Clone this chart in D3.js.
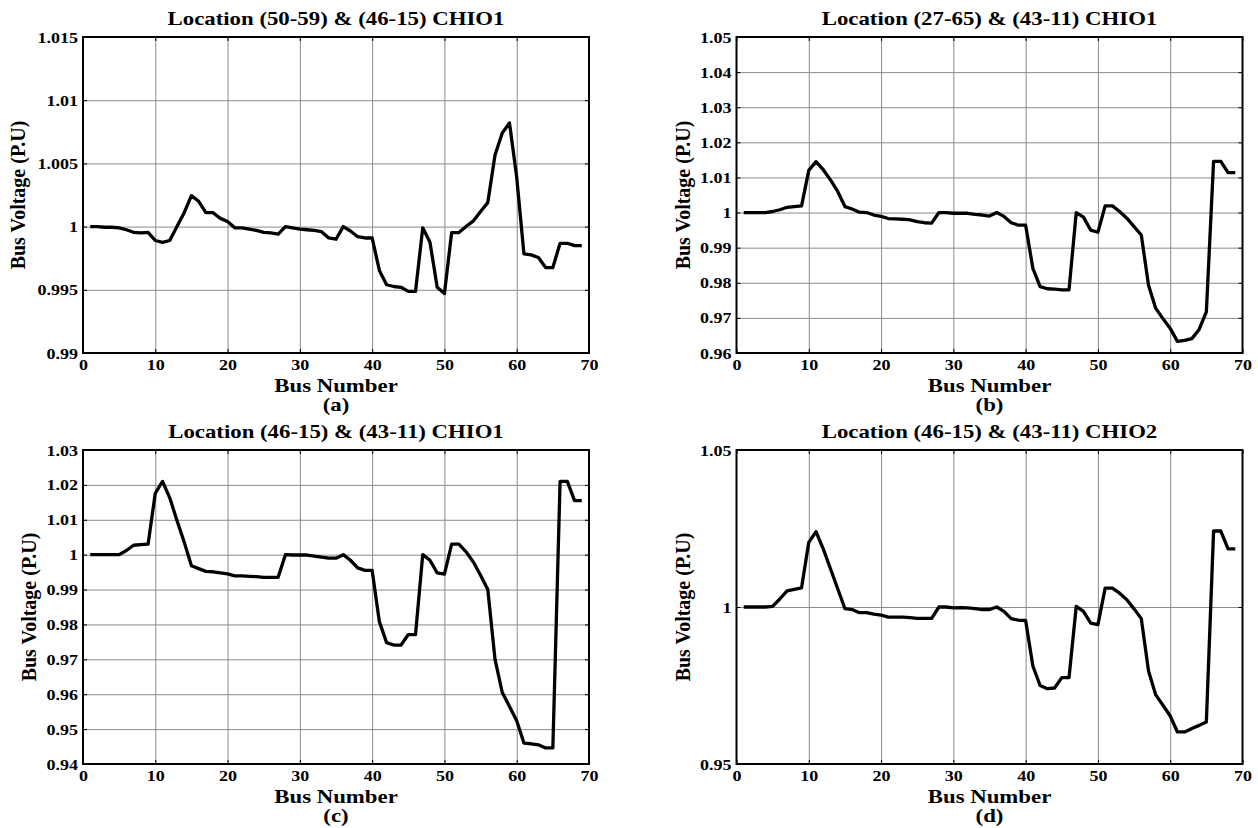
<!DOCTYPE html>
<html><head><meta charset="utf-8">
<script src="https://cdn.jsdelivr.net/npm/d3@7"></script>
<style>
body{margin:0;background:#fff}
text{font-family:"Liberation Serif","Times New Roman",serif;font-weight:bold;fill:#000}
</style>
</head><body>
<svg id="chart" width="1258" height="828"></svg>
<script>
// ---------------- data ----------------
const busNumbers = d3.range(1, 70);

const voltageA = [1.0000,1.0000,0.99995,0.99995,0.9999,0.99975,0.99955,0.9995,0.99955,0.9989,
  0.99875,0.9989,1.0000,1.0011,1.00245,1.0020,1.0011,1.0011,1.00065,1.0004,
  0.9999,0.9999,0.9998,0.9997,0.99955,0.9995,0.9994,1.0000,0.9999,0.9998,
  0.99975,0.9997,0.9996,0.9991,0.9990,1.0000,0.99965,0.9992,0.9991,0.9991,
  0.99653,0.9954,0.99526,0.9952,0.99487,0.99487,0.9999,0.99876,0.9952,0.9947,
  0.99953,0.99953,1.0000,1.00045,1.0012,1.0019,1.00566,1.0074,1.0082,1.0039,
  0.99784,0.99776,0.99755,0.99676,0.99676,0.99868,0.99868,0.9985,0.9985];

const voltageB = [1.0,1.0,1.0,1.0,1.0003,1.0008,1.0015,1.0017,1.0019,1.012,
  1.0145,1.0122,1.0093,1.006,1.0017,1.001,1.0001,1.0,0.9993,0.9989,
  0.9983,0.9982,0.9981,0.9979,0.9974,0.9971,0.9970,1.0,1.0,0.9998,
  0.9998,0.9998,0.9995,0.9993,0.999,1.0,0.9989,0.9971,0.9964,0.9964,
  0.9841,0.9789,0.9783,0.9782,0.978,0.978,1.0,0.9987,0.995,0.9944,
  1.0019,1.0019,1.0003,0.9984,0.996,0.9936,0.9793,0.9727,0.9698,0.967,
  0.9633,0.9636,0.9641,0.9667,0.9717,1.0146,1.0146,1.0114,1.0114];

const voltageC = [1.0,1.0,1.0,1.0,1.0,1.0012,1.0027,1.0029,1.003,1.0176,
  1.021,1.0163,1.0098,1.0036,0.9968,0.996,0.9952,0.9951,0.9948,0.9945,
  0.9939,0.9939,0.9938,0.9937,0.9935,0.9935,0.9935,1.0,0.9999,0.9999,
  0.9999,0.9996,0.9993,0.999,0.999,1.0,0.9984,0.9962,0.9955,0.9955,
  0.9808,0.9748,0.9741,0.9741,0.9771,0.9771,1.0,0.9984,0.9948,0.9944,
  1.003,1.003,1.0008,0.9979,0.9941,0.99,0.97,0.9605,0.9565,0.9524,
  0.946,0.9458,0.9455,0.9446,0.9446,1.021,1.021,1.0155,1.0155];

const voltageD = [1.0,1.0,1.0,1.0,1.0002,1.0026,1.0051,1.0056,1.0061,1.0206,
  1.024,1.0185,1.0122,1.0058,0.9995,0.9992,0.9982,0.9982,0.9977,0.9974,
  0.9968,0.9968,0.9968,0.9966,0.9964,0.9964,0.9964,1.0,1.0,0.9997,
  0.9998,0.9997,0.9995,0.9992,0.9992,1.0,0.9986,0.9963,0.9958,0.9957,
  0.9812,0.975,0.974,0.9742,0.9775,0.9775,1.0002,0.9986,0.9949,0.9944,
  1.006,1.006,1.0044,1.0023,0.9994,0.9963,0.9796,0.972,0.9687,0.9653,
  0.9602,0.9602,0.9613,0.9623,0.9634,1.0242,1.0242,1.0185,1.0185];

const xTicks = [0, 10, 20, 30, 40, 50, 60, 70];
const yTicksA = [0.99, 0.995, 1, 1.005, 1.01, 1.015];
const yTicksB = [0.96, 0.97, 0.98, 0.99, 1, 1.01, 1.02, 1.03, 1.04, 1.05];
const yTicksC = [0.94, 0.95, 0.96, 0.97, 0.98, 0.99, 1, 1.01, 1.02, 1.03];
const yTicksD = [0.95, 1, 1.05];

const titles = ["Location (50-59) & (46-15) CHIO1", "Location (27-65) & (43-11) CHIO1",
                "Location (46-15) & (43-11) CHIO1", "Location (46-15) & (43-11) CHIO2"];
const panelLabels = ["(a)", "(b)", "(c)", "(d)"];
const xLabel = "Bus Number";
const yLabel = "Bus Voltage (P.U)";

// ---------------- layout ----------------
const colX = [[83, 589], [736.5, 1242.5]];
const rowY = [[37, 353], [450, 764]];
const STRETCH = 1.2;

const panels = [
  {values: voltageA, yTicks: yTicksA, col: 0, row: 0, ylabOff: 58},
  {values: voltageB, yTicks: yTicksB, col: 1, row: 0, ylabOff: 47},
  {values: voltageC, yTicks: yTicksC, col: 0, row: 1, ylabOff: 47},
  {values: voltageD, yTicks: yTicksD, col: 1, row: 1, ylabOff: 47}
];

const svg = d3.select("#chart");
const fmt = d => String(+d.toFixed(4));

panels.forEach((p, i) => {
  const [x0, x1] = colX[p.col];
  const [y0, y1] = rowY[p.row];
  const x = d3.scaleLinear().domain([0, 70]).range([x0, x1]);
  const y = d3.scaleLinear().domain([p.yTicks[0], p.yTicks[p.yTicks.length - 1]]).range([y1, y0]);
  const g = svg.append("g");

  // grid
  g.append("g").attr("transform", `translate(0,${y1})`)
    .call(d3.axisBottom(x).tickValues(xTicks.slice(1, -1)).tickSize(-(y1 - y0)).tickFormat(""))
    .call(s => s.select(".domain").remove())
    .selectAll("line").attr("stroke", "#8a8a8a").attr("stroke-width", 1);
  g.append("g").attr("transform", `translate(${x0},0)`)
    .call(d3.axisLeft(y).tickValues(p.yTicks.slice(1, -1)).tickSize(-(x1 - x0)).tickFormat(""))
    .call(s => s.select(".domain").remove())
    .selectAll("line").attr("stroke", "#8a8a8a").attr("stroke-width", 1);

  // line
  const line = d3.line().x((d, k) => x(busNumbers[k])).y(d => y(d));
  g.append("path").datum(p.values).attr("d", line)
    .attr("fill", "none").attr("stroke", "#000").attr("stroke-width", 3.3)
    .attr("stroke-linejoin", "round");

  // axes with inward ticks
  const ax = g.append("g").attr("transform", `translate(0,${y1})`)
    .call(d3.axisBottom(x).tickValues(xTicks).tickSizeInner(-4).tickSizeOuter(0).tickPadding(6));
  ax.select(".domain").remove();
  ax.selectAll("text").attr("class", "stretch").style("font-size", "15px")
    .attr("dy", null).attr("y", 17);
  const ay = g.append("g").attr("transform", `translate(${x0},0)`)
    .call(d3.axisLeft(y).tickValues(p.yTicks).tickFormat(fmt).tickSizeInner(-4).tickSizeOuter(0).tickPadding(5));
  ay.select(".domain").remove();
  ay.selectAll("text").attr("class", "stretch").style("font-size", "15px").attr("dy", "0.34em");
  const at = g.append("g").attr("transform", `translate(0,${y0})`)
    .call(d3.axisTop(x).tickValues(xTicks).tickSizeInner(-4).tickSizeOuter(0).tickFormat(""));
  at.select(".domain").remove();
  const ar = g.append("g").attr("transform", `translate(${x1},0)`)
    .call(d3.axisRight(y).tickValues(p.yTicks).tickSizeInner(-4).tickSizeOuter(0).tickFormat(""));
  ar.select(".domain").remove();
  g.selectAll(".tick line").filter(function(){ return this.getAttribute("stroke") !== "#8a8a8a"; })
    .attr("stroke", "#000");

  // box
  g.append("rect").attr("x", x0).attr("y", y0).attr("width", x1 - x0).attr("height", y1 - y0)
    .attr("fill", "none").attr("stroke", "#000").attr("stroke-width", 2);

  const cx = (x0 + x1) / 2;
  g.append("text").attr("class", "stretch").attr("x", cx).attr("y", y0 - 12)
    .attr("text-anchor", "middle").style("font-size", "19px").text(titles[i]);
  g.append("text").attr("class", "stretch").attr("x", cx).attr("y", y1 + 39)
    .attr("text-anchor", "middle").style("font-size", "19px").text(xLabel);
  g.append("text").attr("class", "stretch").attr("x", cx).attr("y", y1 + 58)
    .attr("text-anchor", "middle").style("font-size", "19px").text(panelLabels[i]);
  g.append("text")
    .attr("transform", `translate(${x0 - p.ylabOff},${(y0 + y1) / 2}) rotate(-90)`)
    .attr("text-anchor", "middle").style("font-size", "20px").text(yLabel);
});

// horizontal widening of texts to match the reference proportions
svg.selectAll("text.stretch").each(function() {
  const w = this.getComputedTextLength();
  if (w > 0) {
    this.setAttribute("textLength", (w * STRETCH).toFixed(1));
    this.setAttribute("lengthAdjust", "spacingAndGlyphs");
  }
});
</script>
</body></html>
